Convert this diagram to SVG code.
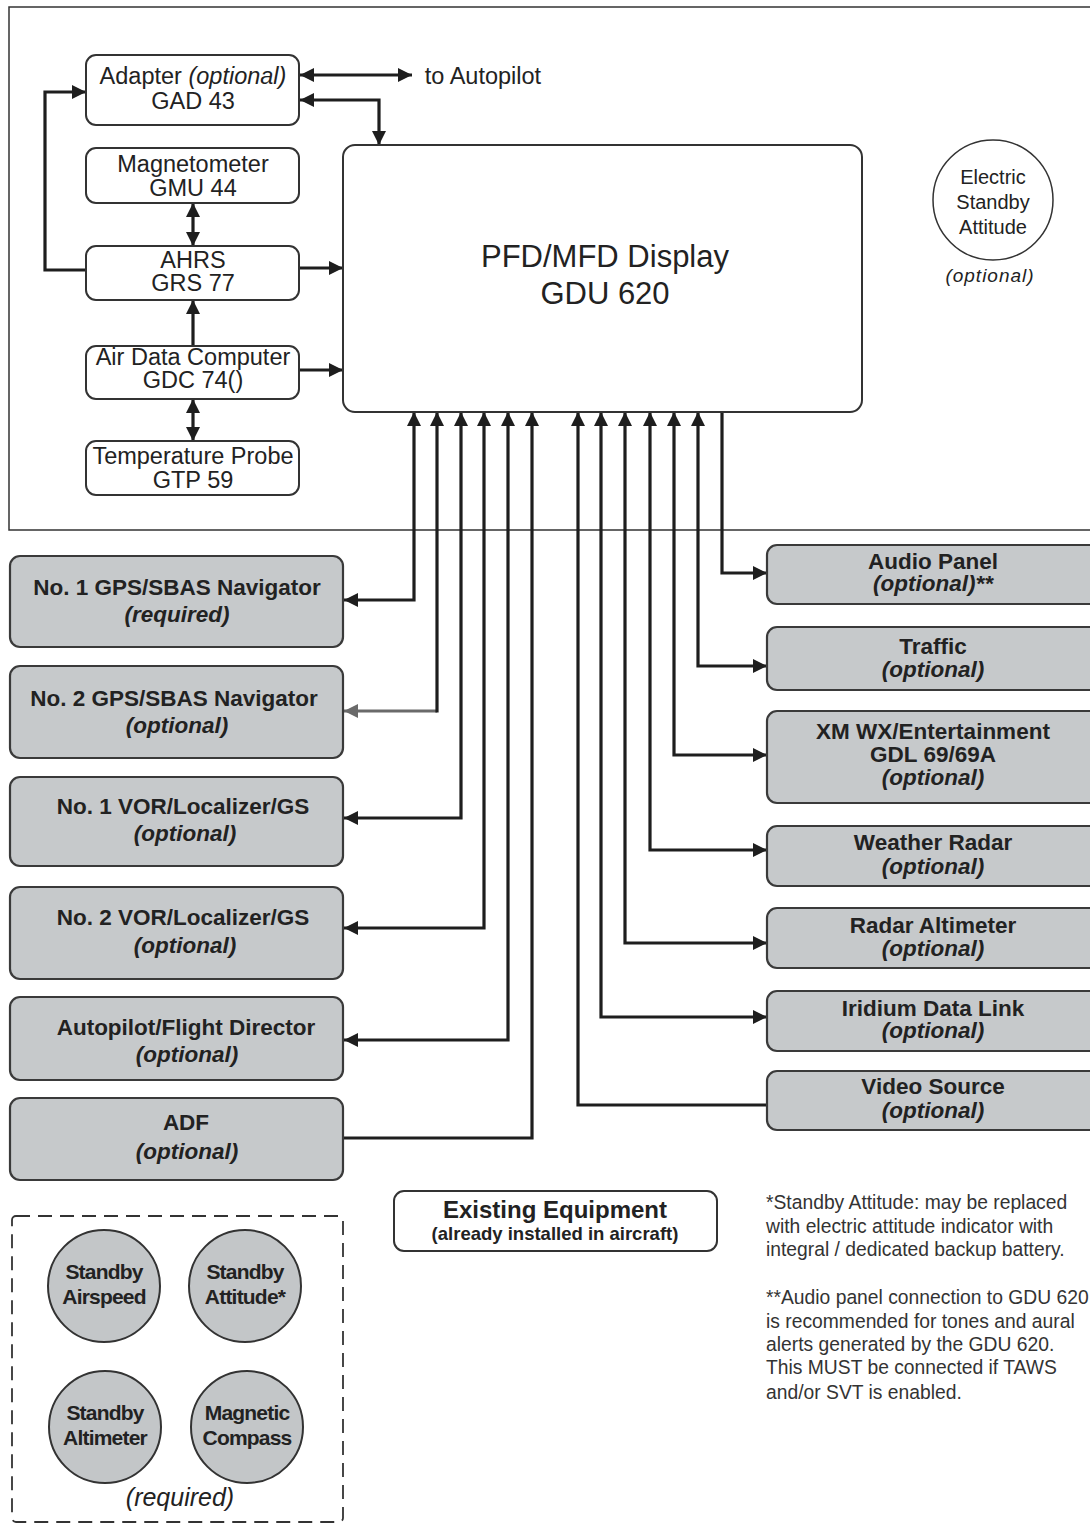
<svg xmlns="http://www.w3.org/2000/svg" width="1090" height="1524" viewBox="0 0 1090 1524">
<style>
.t{font-family:"Liberation Sans",Arial,sans-serif;fill:#222;text-anchor:middle}
.lt{font-size:23.5px}
.it{font-style:italic}
.wb{fill:#fff;stroke:#333;stroke-width:2}
.gb{fill:#c6c9cb;stroke:#3a3a3a;stroke-width:2.2}
.bt{font-size:22.5px;font-weight:bold}
.c{fill:none;stroke:#1e1e1e;stroke-width:3.2}
.cg{fill:none;stroke:#6a6a6a;stroke-width:3}
.note{font-family:"Liberation Sans",Arial,sans-serif;font-size:19.3px;fill:#333}
.ct{font-family:"Liberation Sans",Arial,sans-serif;font-size:21px;font-weight:bold;fill:#222;text-anchor:middle;letter-spacing:-0.8px}
</style>
<defs>
<marker id="a" viewBox="0 0 10 10" refX="10" refY="5" markerWidth="14" markerHeight="14" markerUnits="userSpaceOnUse" orient="auto-start-reverse"><path d="M0,0 L10,5 L0,10 z" fill="#1e1e1e"/></marker>
<marker id="ag" viewBox="0 0 10 10" refX="10" refY="5" markerWidth="14" markerHeight="14" markerUnits="userSpaceOnUse" orient="auto-start-reverse"><path d="M0,0 L10,5 L0,10 z" fill="#6a6a6a"/></marker>
</defs>
<rect width="1090" height="1524" fill="#fff"/>
<g id="frame" fill="none" stroke="#333" stroke-width="1.5">
<path d="M1092,7 H9 V530 H1092"/>
</g>
<g id="connectors">
<path class="c" d="M300,75 H412" marker-start="url(#a)" marker-end="url(#a)"/>
<path class="c" d="M300,100 H379 V145" marker-start="url(#a)" marker-end="url(#a)"/>
<path class="c" d="M86,270 H45 V92 H86" marker-end="url(#a)"/>
<path class="c" d="M193,203 V246" marker-start="url(#a)" marker-end="url(#a)"/>
<path class="c" d="M193,346 V300" marker-end="url(#a)"/>
<path class="c" d="M193,399 V441" marker-start="url(#a)" marker-end="url(#a)"/>
<path class="c" d="M300,268 H343" marker-end="url(#a)"/>
<path class="c" d="M300,370 H343" marker-end="url(#a)"/>
<path class="c" d="M344,600 H414 V412" marker-start="url(#a)" marker-end="url(#a)"/>
<path class="cg" d="M344,711 H437" marker-start="url(#ag)"/>
<path class="c" d="M437,712.5 V412" marker-end="url(#a)"/>
<path class="c" d="M344,818 H461 V412" marker-start="url(#a)" marker-end="url(#a)"/>
<path class="c" d="M344,928 H484 V412" marker-start="url(#a)" marker-end="url(#a)"/>
<path class="c" d="M344,1040 H508 V412" marker-start="url(#a)" marker-end="url(#a)"/>
<path class="c" d="M344,1138 H532 V412" marker-end="url(#a)"/>
<path class="c" d="M722,412 V573 H767" marker-end="url(#a)"/>
<path class="c" d="M698,412 V666 H767" marker-start="url(#a)" marker-end="url(#a)"/>
<path class="c" d="M674,412 V755 H767" marker-start="url(#a)" marker-end="url(#a)"/>
<path class="c" d="M650,412 V850 H767" marker-start="url(#a)" marker-end="url(#a)"/>
<path class="c" d="M625,412 V943 H767" marker-start="url(#a)" marker-end="url(#a)"/>
<path class="c" d="M601,412 V1017 H767" marker-start="url(#a)" marker-end="url(#a)"/>
<path class="c" d="M578,412 V1105 H767" marker-start="url(#a)"/>
</g>
<g id="adapter"><rect class="wb" x="86" y="55" width="213" height="70" rx="10"/>
<text class="t lt" x="193" y="84">Adapter <tspan class="it">(optional)</tspan></text>
<text class="t lt" x="193" y="109">GAD 43</text></g>
<text class="t lt" x="483" y="84">to Autopilot</text>
<g id="magnetometer"><rect class="wb" x="86" y="148" width="213" height="55" rx="10"/>
<text class="t lt" x="193" y="172">Magnetometer</text>
<text class="t lt" x="193" y="196">GMU 44</text></g>
<g id="ahrs"><rect class="wb" x="86" y="246" width="213" height="54" rx="10"/>
<text class="t lt" x="193" y="268">AHRS</text>
<text class="t lt" x="193" y="291">GRS 77</text></g>
<g id="adc"><rect class="wb" x="86" y="346" width="213" height="53" rx="10"/>
<text class="t lt" x="193" y="365">Air Data Computer</text>
<text class="t lt" x="193" y="388">GDC 74()</text></g>
<g id="temp"><rect class="wb" x="86" y="441" width="213" height="54" rx="10"/>
<text class="t lt" x="193" y="464">Temperature Probe</text>
<text class="t lt" x="193" y="488">GTP 59</text></g>
<g id="pfd"><rect class="wb" x="343" y="145" width="519" height="267" rx="12"/>
<text class="t" x="605" y="267" font-size="31">PFD/MFD Display</text>
<text class="t" x="605" y="304" font-size="31">GDU 620</text></g>
<g id="electric-standby"><circle cx="993" cy="200" r="60" fill="#fff" stroke="#333" stroke-width="1.5"/>
<text class="t" x="993" y="184" font-size="20">Electric</text>
<text class="t" x="993" y="209" font-size="20">Standby</text>
<text class="t" x="993" y="234" font-size="20">Attitude</text>
<text class="t it" x="990" y="282" font-size="19" letter-spacing="1">(optional)</text></g>
<g id="gps1"><rect class="gb" x="10" y="556" width="333" height="91" rx="10"/>
<text class="t bt" x="177" y="595">No. 1 GPS/SBAS Navigator</text>
<text class="t bt it" x="177" y="622">(required)</text></g>
<g id="gps2"><rect class="gb" x="10" y="666" width="333" height="92" rx="10"/>
<text class="t bt" x="174" y="706">No. 2 GPS/SBAS Navigator</text>
<text class="t bt it" x="177" y="733">(optional)</text></g>
<g id="vor1"><rect class="gb" x="10" y="777" width="333" height="89" rx="10"/>
<text class="t bt" x="183" y="814">No. 1 VOR/Localizer/GS</text>
<text class="t bt it" x="185" y="841">(optional)</text></g>
<g id="vor2"><rect class="gb" x="10" y="887" width="333" height="92" rx="10"/>
<text class="t bt" x="183" y="925">No. 2 VOR/Localizer/GS</text>
<text class="t bt it" x="185" y="953">(optional)</text></g>
<g id="autopilot"><rect class="gb" x="10" y="997" width="333" height="83" rx="10"/>
<text class="t bt" x="186" y="1035">Autopilot/Flight Director</text>
<text class="t bt it" x="187" y="1062">(optional)</text></g>
<g id="adf"><rect class="gb" x="10" y="1098" width="333" height="82" rx="10"/>
<text class="t bt" x="186" y="1130">ADF</text>
<text class="t bt it" x="187" y="1159">(optional)</text></g>
<g id="audio"><rect class="gb" x="767" y="545" width="340" height="59" rx="10"/>
<text class="t bt" x="933" y="569">Audio Panel</text>
<text class="t bt it" x="933" y="591">(optional)**</text></g>
<g id="traffic"><rect class="gb" x="767" y="627" width="340" height="63" rx="10"/>
<text class="t bt" x="933" y="654">Traffic</text>
<text class="t bt it" x="933" y="677">(optional)</text></g>
<g id="xm"><rect class="gb" x="767" y="711" width="340" height="92" rx="10"/>
<text class="t bt" x="933" y="739">XM WX/Entertainment</text>
<text class="t bt" x="933" y="762">GDL 69/69A</text>
<text class="t bt it" x="933" y="785">(optional)</text></g>
<g id="wxradar"><rect class="gb" x="767" y="826" width="340" height="60" rx="10"/>
<text class="t bt" x="933" y="850">Weather Radar</text>
<text class="t bt it" x="933" y="874">(optional)</text></g>
<g id="radalt"><rect class="gb" x="767" y="908" width="340" height="60" rx="10"/>
<text class="t bt" x="933" y="933">Radar Altimeter</text>
<text class="t bt it" x="933" y="956">(optional)</text></g>
<g id="iridium"><rect class="gb" x="767" y="991" width="340" height="60" rx="10"/>
<text class="t bt" x="933" y="1016">Iridium Data Link</text>
<text class="t bt it" x="933" y="1038">(optional)</text></g>
<g id="video"><rect class="gb" x="767" y="1071" width="340" height="59" rx="10"/>
<text class="t bt" x="933" y="1094">Video Source</text>
<text class="t bt it" x="933" y="1118">(optional)</text></g>
<g id="legend"><rect class="wb" x="394" y="1191" width="323" height="60" rx="10"/>
<text class="t" x="555" y="1218" font-size="24" font-weight="bold">Existing Equipment</text>
<text class="t" x="555" y="1240" font-size="18.5" font-weight="bold">(already installed in aircraft)</text></g>
<g id="required-group">
<rect x="12" y="1216" width="331" height="306" rx="4" fill="none" stroke="#333" stroke-width="1.8" stroke-dasharray="14,8"/>
<circle cx="104" cy="1286" r="56" fill="#c3c6c8" stroke="#333" stroke-width="2"/>
<circle cx="245" cy="1286" r="56" fill="#c3c6c8" stroke="#333" stroke-width="2"/>
<circle cx="105" cy="1427" r="56" fill="#c3c6c8" stroke="#333" stroke-width="2"/>
<circle cx="247" cy="1427" r="56" fill="#c3c6c8" stroke="#333" stroke-width="2"/>
<text class="ct" x="104" y="1279">Standby</text>
<text class="ct" x="104" y="1304">Airspeed</text>
<text class="ct" x="245" y="1279">Standby</text>
<text class="ct" x="245" y="1304">Attitude*</text>
<text class="ct" x="105" y="1420">Standby</text>
<text class="ct" x="105" y="1445">Altimeter</text>
<text class="ct" x="247" y="1420">Magnetic</text>
<text class="ct" x="247" y="1445">Compass</text>
<text class="t it" x="180" y="1506" font-size="25">(required)</text>
</g>
<g id="notes">
<text class="note" x="766" y="1209">*Standby Attitude: may be replaced</text>
<text class="note" x="766" y="1233">with electric attitude indicator with</text>
<text class="note" x="766" y="1256">integral / dedicated backup battery.</text>
<text class="note" x="766" y="1304">**Audio panel connection to GDU 620</text>
<text class="note" x="766" y="1328">is recommended for tones and aural</text>
<text class="note" x="766" y="1351">alerts generated by the GDU 620.</text>
<text class="note" x="766" y="1374">This MUST be connected if TAWS</text>
<text class="note" x="766" y="1399">and/or SVT is enabled.</text>
</g>
</svg>
